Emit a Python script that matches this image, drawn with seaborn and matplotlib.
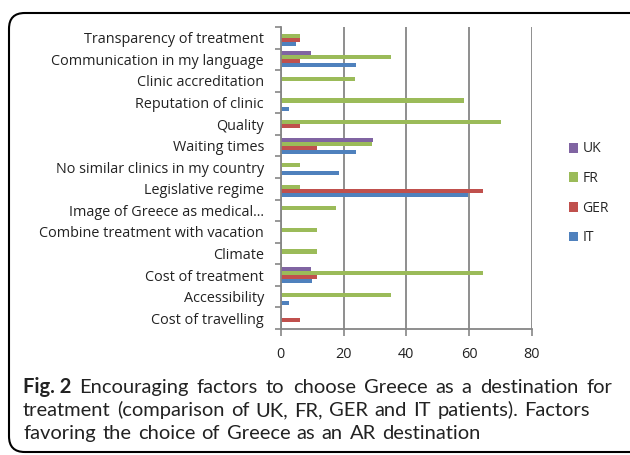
import matplotlib
matplotlib.use("Agg")
import matplotlib.pyplot as plt
from matplotlib.patches import FancyBboxPatch
import seaborn as sns
import pandas as pd
import numpy as np

# factors, top to bottom
factors = ["Transparency of treatment", "Communication in my language", "Clinic accreditation",
           "Reputation of clinic", "Quality", "Waiting times", "No similar clinics in my country",
           "Legislative regime", "Image of Greece as medical...", "Combine treatment with vacation",
           "Climate", "Cost of treatment", "Accessibility", "Cost of travelling"]
countries = ["UK", "FR", "GER", "IT"]
uk = [0, 9.5, 0, 0, 0, 29.5, 0, 0, 0, 0, 0, 9.5, 0, 0]
fr = [6, 35, 23.5, 58.5, 70, 29, 6, 6, 17.5, 11.5, 11.5, 64.5, 35, 0]
ger = [6, 6, 0, 0, 6, 11.5, 0, 64.5, 0, 0, 0, 11.5, 0, 6]
it = [5, 24, 0, 2.5, 0, 24, 18.5, 59.5, 0, 0, 0, 10, 2.5, 0]
colors = ["#8064A2", "#9BBB59", "#C0504D", "#4F81BD"]
xticks = [0, 20, 40, 60, 80]

df = pd.DataFrame({"Factor": factors * 4,
                   "Country": np.repeat(countries, len(factors)),
                   "Value": uk + fr + ger + it})

sns.set_theme(style="white")
plt.rcParams["font.family"] = ["Open Sans", "DejaVu Sans"]

W, H = 630, 455
fig = plt.figure(figsize=(W / 100, H / 100), dpi=100)
ax = fig.add_axes([280.7 / W, 1 - 329 / H, (532 - 280.7) / W, (329 - 27) / H])

sns.barplot(data=df, x="Value", y="Factor", hue="Country", hue_order=countries,
            palette=colors, width=0.75, linewidth=0, saturation=1, ax=ax)

grey = "#868686"
ax.set_xlim(0, 80)
ax.set_ylim(len(factors) - 0.5, -0.5)
ax.set_xticks(xticks)
ax.set_xlabel("")
ax.set_ylabel("")
ax.set_axisbelow(True)
ax.grid(axis="x", color=grey, lw=1.3)
ax.grid(axis="y", visible=False)
for s in ["top", "right"]:
    ax.spines[s].set_visible(False)
for s in ["left", "bottom"]:
    ax.spines[s].set_color(grey)
    ax.spines[s].set_linewidth(1.3)

ax.set_yticks(np.arange(len(factors)))
ax.set_yticklabels(factors)
ax.set_yticks(np.arange(-0.5, len(factors), 1), minor=True)
ax.tick_params(axis="y", which="major", length=0, pad=12, labelsize=10.4, labelcolor="#222222")
ax.tick_params(axis="y", which="minor", length=4, width=1.2, color=grey, direction="out", left=True)
ax.tick_params(axis="x", length=5, width=1.2, color=grey, direction="out", bottom=True,
               pad=8, labelsize=10.4, labelcolor="#222222")

handles, labels = ax.get_legend_handles_labels()
ax.legend(handles, labels, loc="upper left", bbox_to_anchor=(556 / W, 1 - 129 / H),
          bbox_transform=fig.transFigure, frameon=False, fontsize=10,
          handlelength=0.7, handleheight=0.7, handletextpad=0.3, labelspacing=1.05)

# border
fig.patches.append(FancyBboxPatch((9 / W, 3 / H), 640 / W, (H - 13 - 3) / H,
                                  boxstyle="round,pad=0,rounding_size=0.025",
                                  transform=fig.transFigure, fill=False,
                                  ec="black", lw=1.5, mutation_aspect=W / H))

# caption
cap_lines = [
    ["Fig. 2", "Encouraging", "factors", "to", "choose", "Greece", "as", "a", "destination", "for"],
    ["treatment", "(comparison", "of", "UK,", "FR,", "GER", "and", "IT", "patients).", "Factors"],
    ["favoring", "the", "choice", "of", "Greece", "as", "an", "AR", "destination"],
]
cap_right = [612, 590, None]
cap_base = [393, 416, 439]
renderer = fig.canvas.get_renderer()
for words, x1, yb in zip(cap_lines, cap_right, cap_base):
    texts = []
    for w in words:
        bold = w == "Fig. 2"
        t = fig.text(0, 1 - yb / H, w, fontsize=14.5, family=["Lato", "DejaVu Sans"],
                     fontweight="bold" if bold else "normal", color="#222222", va="baseline")
        texts.append(t)
    widths = [t.get_window_extent(renderer).width for t in texts]
    if x1 is None:
        gap = 6.5
    else:
        gap = (x1 - 23 - sum(widths)) / (len(words) - 1)
    x = 23
    for t, w in zip(texts, widths):
        t.set_x(x / W)
        x += w + gap

fig.savefig("out.png", dpi=100)
